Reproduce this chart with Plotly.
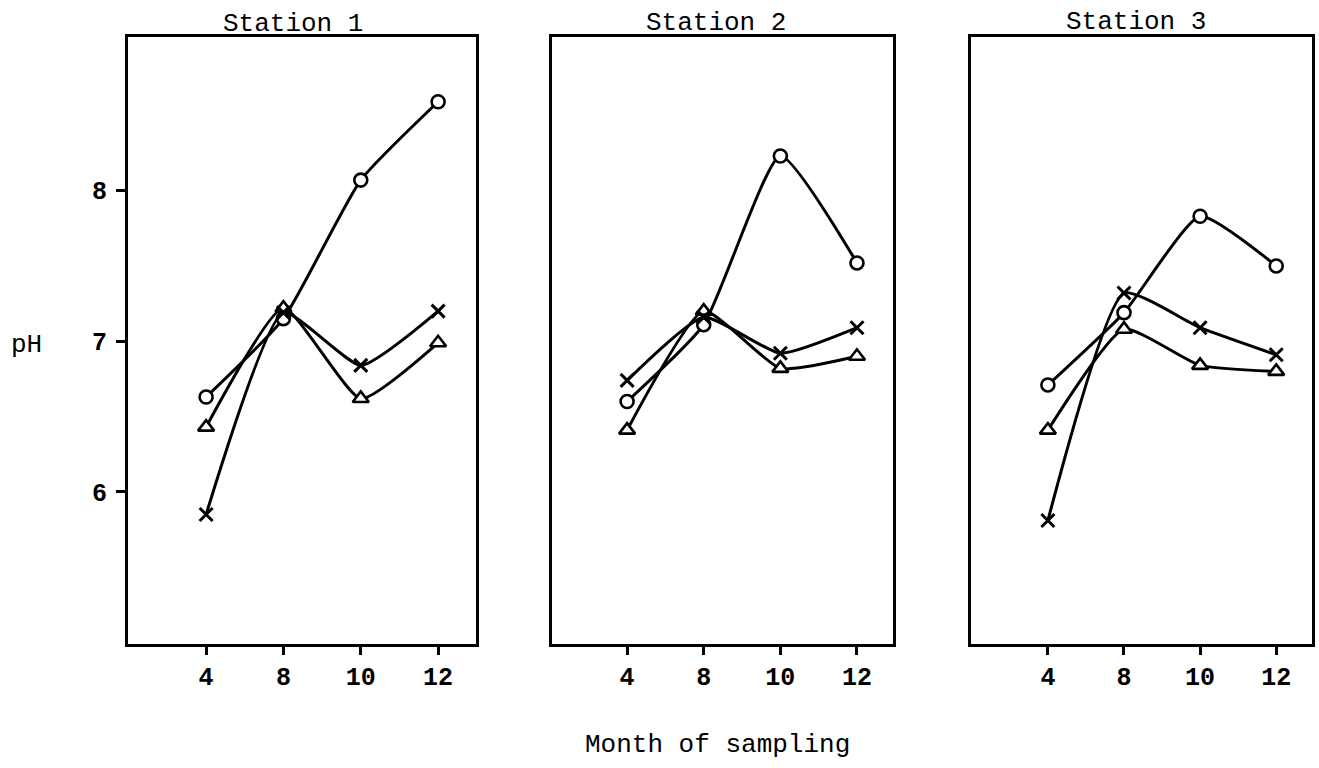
import plotly.graph_objects as go

# ---- data ----
months = ["4", "8", "10", "12"]
stations = ["Station 1", "Station 2", "Station 3"]
y_ticks = [6, 7, 8]

circle_s1 = [6.63, 7.15, 8.07, 8.59]
triangle_s1 = [6.43, 7.22, 6.62, 6.99]
cross_s1 = [5.85, 7.19, 6.84, 7.20]

circle_s2 = [6.60, 7.11, 8.23, 7.52]
triangle_s2 = [6.41, 7.20, 6.82, 6.90]
cross_s2 = [6.74, 7.16, 6.92, 7.09]

circle_s3 = [6.71, 7.19, 7.83, 7.50]
triangle_s3 = [6.41, 7.08, 6.84, 6.80]
cross_s3 = [5.81, 7.32, 7.09, 6.91]

panels = [
    (circle_s1, triangle_s1, cross_s1),
    (circle_s2, triangle_s2, cross_s2),
    (circle_s3, triangle_s3, cross_s3),
]

# ---- layout geometry ----
W, H = 1319, 768
FONT = "Liberation Mono, Courier New, monospace"
x_dom_px = [(128, 476), (552, 893), (971, 1312)]
x_ranges = [[-1.01, 3.49], [-0.98, 3.47], [-1.01, 3.47]]
top_px, bot_px = 37, 644
y_dom = [1 - bot_px / H, 1 - top_px / H]
y_range = [4.99, 9.02]

fig = go.Figure()

symbols = ["circle", "triangle-up", "x-thin"]
for i, series in enumerate(panels):
    xa = "x" if i == 0 else f"x{i+1}"
    ya = "y" if i == 0 else f"y{i+1}"
    for vals, sym in zip(series, symbols):
        if sym == "x-thin":
            mk = dict(symbol=sym, size=13, color="black",
                      line=dict(color="black", width=3))
        else:
            mk = dict(symbol=sym, size=13 if sym == "circle" else 14,
                      color="white", line=dict(color="black", width=2.6))
        fig.add_trace(go.Scatter(
            x=months, y=vals, mode="lines+markers",
            line=dict(shape="spline", smoothing=0.5, color="black", width=3),
            marker=mk, xaxis=xa, yaxis=ya, showlegend=False,
            hoverinfo="x+y"))

axis_common = dict(showline=True, linecolor="black", linewidth=3,
                   mirror=True, showgrid=False, zeroline=False,
                   tickfont=dict(family=FONT, size=25, color="black",
                                 weight="bold"))

layout = dict(width=W, height=H, paper_bgcolor="white", plot_bgcolor="white",
              margin=dict(l=0, r=0, t=0, b=0), showlegend=False,
              font=dict(family=FONT, color="black"))

for i in range(3):
    xk = "xaxis" if i == 0 else f"xaxis{i+1}"
    yk = "yaxis" if i == 0 else f"yaxis{i+1}"
    xa_name = "x" if i == 0 else f"x{i+1}"
    ya_name = "y" if i == 0 else f"y{i+1}"
    l, r = x_dom_px[i]
    layout[xk] = dict(axis_common, domain=[l / W, r / W], type="category",
                      range=x_ranges[i], anchor=ya_name,
                      ticks="outside", ticklen=8, tickwidth=3,
                      tickcolor="black", categoryorder="array",
                      categoryarray=months)
    if i == 0:
        layout[yk] = dict(axis_common, domain=y_dom, range=y_range,
                          anchor=xa_name, tickvals=y_ticks,
                          ticks="outside", ticklen=9, tickwidth=3,
                          tickcolor="black", ticklabelstandoff=4)
    else:
        layout[yk] = dict(axis_common, domain=y_dom, range=y_range,
                          anchor=xa_name, showticklabels=False, ticks="")

fig.update_layout(**layout)

# ---- text ----
title_pos = [(293, 24), (716, 23), (1136, 22)]
for name, (cx, cy) in zip(stations, title_pos):
    fig.add_annotation(x=cx / W, y=1 - cy / H, xref="paper", yref="paper",
                       text=name, showarrow=False,
                       font=dict(family=FONT, size=26, color="black"),
                       xanchor="center", yanchor="middle")

fig.add_annotation(x=27 / W, y=1 - 345 / H, xref="paper", yref="paper",
                   text="pH", showarrow=False,
                   font=dict(family=FONT, size=26, color="black"),
                   xanchor="center", yanchor="middle")
fig.add_annotation(x=717 / W, y=1 - 745 / H, xref="paper", yref="paper",
                   text="Month of sampling", showarrow=False,
                   font=dict(family=FONT, size=26, color="black"),
                   xanchor="center", yanchor="middle")

fig.write_html("out.html",
               config={"displayModeBar": False},
               post_script="document.body.style.margin='0';"
                           "document.body.style.overflow='hidden';")
